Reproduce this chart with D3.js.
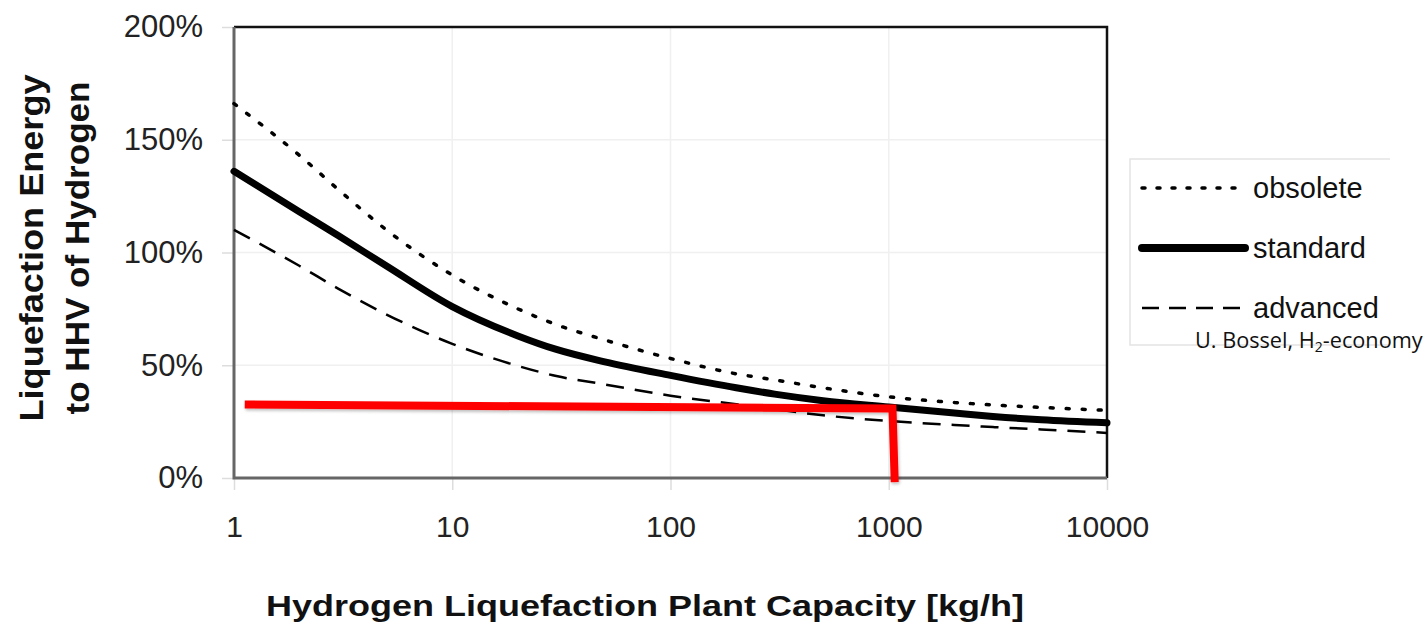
<!DOCTYPE html>
<html>
<head>
<meta charset="utf-8">
<script src="https://cdn.jsdelivr.net/npm/d3@7"></script>
<style>
  body { margin: 0; background: #fff; }
  svg { display: block; font-family: "Liberation Sans", Arial, sans-serif; }
</style>
</head>
<body>
<svg id="chart" width="1426" height="624"></svg>
<script>
// capacity in kg/h, energy as fraction of HHV
var capacity = [1, 2, 3, 5, 10, 20, 30, 50, 100, 200, 300, 500, 1000, 2000, 3000, 5000, 10000];
var obsolete = [1.66, 1.43, 1.28, 1.10, 0.90, 0.75, 0.68, 0.612, 0.53, 0.462, 0.435, 0.40, 0.36, 0.335, 0.324, 0.313, 0.30];
var standard = [1.36, 1.18, 1.075, 0.94, 0.76, 0.63, 0.57, 0.515, 0.455, 0.40, 0.372, 0.343, 0.315, 0.288, 0.273, 0.258, 0.245];
var advanced = [1.10, 0.94, 0.84, 0.725, 0.595, 0.497, 0.452, 0.415, 0.365, 0.327, 0.305, 0.278, 0.253, 0.235, 0.226, 0.215, 0.20];

// red highlight drawn over the chart
var markerCap = [1.12, 1040, 1065];
var markerVal = [0.326, 0.308, -0.018];

var xTicks = [1, 10, 100, 1000, 10000];
var yTicks = [0, 0.5, 1, 1.5, 2];

var seriesNames = ["obsolete", "standard", "advanced"];
var seriesData = [obsolete, standard, advanced];

var styles = {
	obsolete: { width: 3.5, dash: "3,13", cap: "round" },
	standard: { width: 7,   dash: null,   cap: "round" },
	advanced: { width: 2.5, dash: "18,11", cap: "butt" }
};

var svg = d3.select("#chart");
var plotL = 234, plotR = 1107, plotT = 27, plotB = 478;

var x = d3.scaleLog().domain([1, 10000]).range([plotL, plotR]);
var y = d3.scaleLinear().domain([0, 2]).range([plotB, plotT]);

var defs = svg.append("defs");
var shadow = defs.append("filter").attr("id", "shadow")
	.attr("x", "-10%").attr("y", "-50%").attr("width", "120%").attr("height", "200%");
shadow.append("feDropShadow")
	.attr("dx", 1).attr("dy", 2).attr("stdDeviation", 1.5)
	.attr("flood-color", "#000").attr("flood-opacity", 0.25);

// gridlines
svg.append("g").selectAll("line")
	.data(yTicks.slice(1, -1))
	.join("line")
		.attr("x1", plotL).attr("x2", plotR)
		.attr("y1", d => y(d)).attr("y2", d => y(d))
		.attr("stroke", "#f0f0f0").attr("stroke-width", 1.5);

svg.append("g").selectAll("line")
	.data(xTicks.slice(1, -1))
	.join("line")
		.attr("x1", d => x(d)).attr("x2", d => x(d))
		.attr("y1", plotT).attr("y2", plotB)
		.attr("stroke", "#f0f0f0").attr("stroke-width", 1.5);

// y axis
var yAxis = svg.append("g")
	.attr("transform", "translate(" + plotL + ",0)")
	.call(d3.axisLeft(y).tickValues(yTicks).tickFormat(d3.format(".0%")).tickSize(12).tickPadding(19));
yAxis.select(".domain").remove();
yAxis.selectAll(".tick line").attr("stroke", "#ddd").attr("stroke-width", 1.5);
yAxis.selectAll(".tick text")
	.attr("font-size", 31).attr("fill", "#222")
	.attr("font-family", "Liberation Sans, Arial, sans-serif");

// x axis
var xAxis = svg.append("g")
	.attr("transform", "translate(0," + plotB + ")")
	.call(d3.axisBottom(x).tickValues(xTicks).tickFormat(d3.format("d")).tickSize(12).tickPadding(26));
xAxis.select(".domain").remove();
xAxis.selectAll(".tick line").attr("stroke", "#ddd").attr("stroke-width", 1.5);
xAxis.selectAll(".tick text")
	.attr("font-size", 30).attr("fill", "#222")
	.attr("font-family", "Liberation Sans, Arial, sans-serif");

// plot frame: top and right are black, left and bottom gray
svg.append("path")
	.attr("d", "M" + plotL + "," + plotT + "H" + plotR + "V" + plotB)
	.attr("fill", "none").attr("stroke", "#111").attr("stroke-width", 2.5);
svg.append("path")
	.attr("d", "M" + plotL + "," + plotT + "V" + plotB + "H" + plotR)
	.attr("fill", "none").attr("stroke", "#666").attr("stroke-width", 3);

// series
var line = d3.line()
	.x(d => x(d[0]))
	.y(d => y(d[1]))
	.curve(d3.curveMonotoneX);

seriesNames.forEach(function(name, i) {
	var pts = capacity.map((c, j) => [c, seriesData[i][j]]);
	var st = styles[name];
	svg.append("path")
		.datum(pts)
		.attr("d", line)
		.attr("fill", "none")
		.attr("stroke", "#000")
		.attr("stroke-width", st.width)
		.attr("stroke-dasharray", st.dash)
		.attr("stroke-linecap", st.cap)
		.attr("stroke-linejoin", "round");
});

// red marker line
var marker = markerCap.map((c, j) => [c, markerVal[j]]);
svg.append("path")
	.datum(marker)
	.attr("d", d3.line().x(d => x(d[0])).y(d => y(d[1])))
	.attr("fill", "none")
	.attr("stroke", "#ff0000")
	.attr("stroke-width", 8)
	.attr("stroke-linejoin", "miter")
	.attr("filter", "url(#shadow)");

// axis titles
svg.append("text")
	.attr("x", 645).attr("y", 616)
	.attr("text-anchor", "middle")
	.attr("font-size", 29).attr("font-weight", "bold").attr("fill", "#111")
	.attr("textLength", 758).attr("lengthAdjust", "spacingAndGlyphs")
	.text("Hydrogen Liquefaction Plant Capacity [kg/h]");

var yTitle = svg.append("g").attr("transform", "translate(0,248) rotate(-90)");
yTitle.append("text")
	.attr("x", 0).attr("y", 43)
	.attr("text-anchor", "middle")
	.attr("font-size", 33).attr("font-weight", "bold").attr("fill", "#111")
	.attr("textLength", 347).attr("lengthAdjust", "spacingAndGlyphs")
	.text("Liquefaction Energy");
yTitle.append("text")
	.attr("x", 0).attr("y", 89)
	.attr("text-anchor", "middle")
	.attr("font-size", 33).attr("font-weight", "bold").attr("fill", "#111")
	.attr("textLength", 333).attr("lengthAdjust", "spacingAndGlyphs")
	.text("to HHV of Hydrogen");

// legend (box has no right edge)
var legend = svg.append("g").attr("transform", "translate(1130,159)");
legend.append("rect")
	.attr("width", 260).attr("height", 186)
	.attr("fill", "#fff");
legend.append("path")
	.attr("d", "M260,0H0V186H260")
	.attr("fill", "none").attr("stroke", "#e4e4e4").attr("stroke-width", 1.5);

seriesNames.forEach(function(name, i) {
	var st = styles[name];
	var ly = 29 + i * 60;
	legend.append("line")
		.attr("x1", 12).attr("x2", 115)
		.attr("y1", ly).attr("y2", ly)
		.attr("stroke", "#000")
		.attr("stroke-width", name == "standard" ? 8 : st.width)
		.attr("stroke-dasharray", name == "obsolete" ? "3,12" : (name == "advanced" ? "17,10" : null))
		.attr("stroke-linecap", st.cap);
	legend.append("text")
		.attr("x", 123).attr("y", ly + 10)
		.attr("font-size", 29).attr("fill", "#111")
		.text(name);
});

// source note
var note = svg.append("text")
	.attr("x", 1195).attr("y", 348)
	.attr("font-family", "Open Sans, sans-serif")
	.attr("font-size", 21.7).attr("fill", "#111");
note.append("tspan").text("U. Bossel, H");
note.append("tspan").attr("font-size", 14).attr("dy", 4).text("2");
note.append("tspan").attr("dy", -4).text("-economy");
</script>
</body>
</html>
